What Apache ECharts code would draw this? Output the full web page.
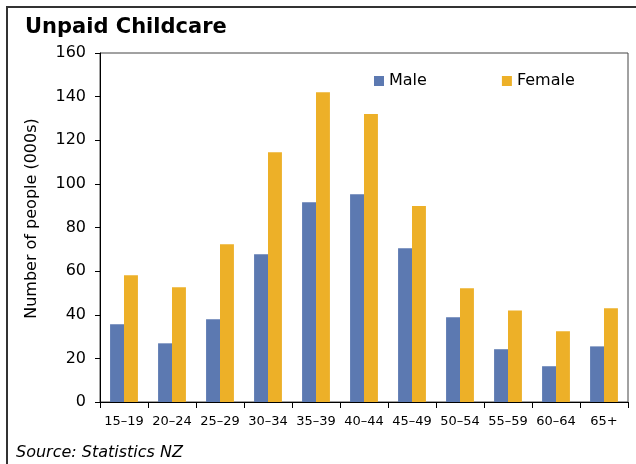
<!DOCTYPE html>
<html>
<head>
<meta charset="utf-8">
<script src="https://cdn.jsdelivr.net/npm/echarts@6/dist/echarts.min.js"></script>
<style>
  html, body { margin: 0; padding: 0; background: #fff; }
  #chart { width: 636px; height: 464px; }
</style>
</head>
<body>
<div id="chart"></div>
<script>
var ageGroups = ['15–19', '20–24', '25–29', '30–34', '35–39', '40–44', '45–49', '50–54', '55–59', '60–64', '65+'];
var maleValues = [35.6, 26.9, 37.9, 67.7, 91.6, 95.3, 70.5, 38.8, 24.2, 16.4, 25.5];
var femaleValues = [58.1, 52.6, 72.3, 114.5, 142.0, 132.0, 89.8, 52.1, 42.0, 32.4, 43.0];
var seriesNames = ['Male', 'Female'];

var font = 'DejaVu Sans, Verdana, sans-serif';
var chart = echarts.init(document.getElementById('chart'));

chart.setOption({
  animation: false,
  textStyle: { fontFamily: font, color: '#000' },
  color: ['#5C79B1', '#EDB028'],
  title: {
    text: 'Unpaid Childcare',
    left: 25,
    top: 17,
    padding: 0,
    textStyle: { fontFamily: font, fontSize: 21, fontWeight: 'bold', color: '#000' }
  },
  legend: {
    data: seriesNames,
    left: 374,
    top: 73,
    padding: 0,
    itemWidth: 10,
    itemHeight: 10,
    itemGap: 75,
    icon: 'rect',
    textStyle: { fontFamily: font, fontSize: 16, color: '#000' }
  },
  grid: {
    left: 100,
    top: 53,
    right: 8,
    bottom: 62,
    show: true,
    borderColor: '#444',
    borderWidth: 1,
    containLabel: false
  },
  xAxis: {
    type: 'category',
    data: ageGroups,
    axisLine: { lineStyle: { color: '#000', width: 1 } },
    axisTick: { show: true, length: 6, alignWithLabel: false, lineStyle: { color: '#000' } },
    axisLabel: { fontFamily: font, fontSize: 13, color: '#000', margin: 13, interval: 0 },
    splitLine: { show: false }
  },
  yAxis: {
    type: 'value',
    min: 0,
    max: 160,
    interval: 20,
    name: 'Number of people (000s)',
    nameLocation: 'middle',
    nameGap: 60,
    nameTextStyle: { fontFamily: font, fontSize: 16, color: '#000', padding: [0, 0, 0, 18] },
    axisLine: { show: true, lineStyle: { color: '#000', width: 1 } },
    axisTick: { show: true, length: 5, lineStyle: { color: '#000' } },
    axisLabel: { fontFamily: font, fontSize: 16, color: '#000', margin: 14 },
    splitLine: { show: false }
  },
  series: [
    {
      name: seriesNames[0],
      type: 'bar',
      data: maleValues,
      barGap: '0%',
      barCategoryGap: '42%'
    },
    {
      name: seriesNames[1],
      type: 'bar',
      data: femaleValues,
      barGap: '0%',
      barCategoryGap: '42%'
    }
  ],
  graphic: [
    {
      type: 'rect',
      shape: { x: 7, y: 7, width: 700, height: 500 },
      style: { fill: 'none', stroke: '#333', lineWidth: 2 },
      silent: true
    },
    {
      type: 'text',
      left: 16,
      top: 445,
      style: {
        text: 'Source: Statistics NZ',
        fontFamily: font,
        fontSize: 16,
        fontStyle: 'italic',
        fill: '#000'
      }
    }
  ]
});
</script>
</body>
</html>
